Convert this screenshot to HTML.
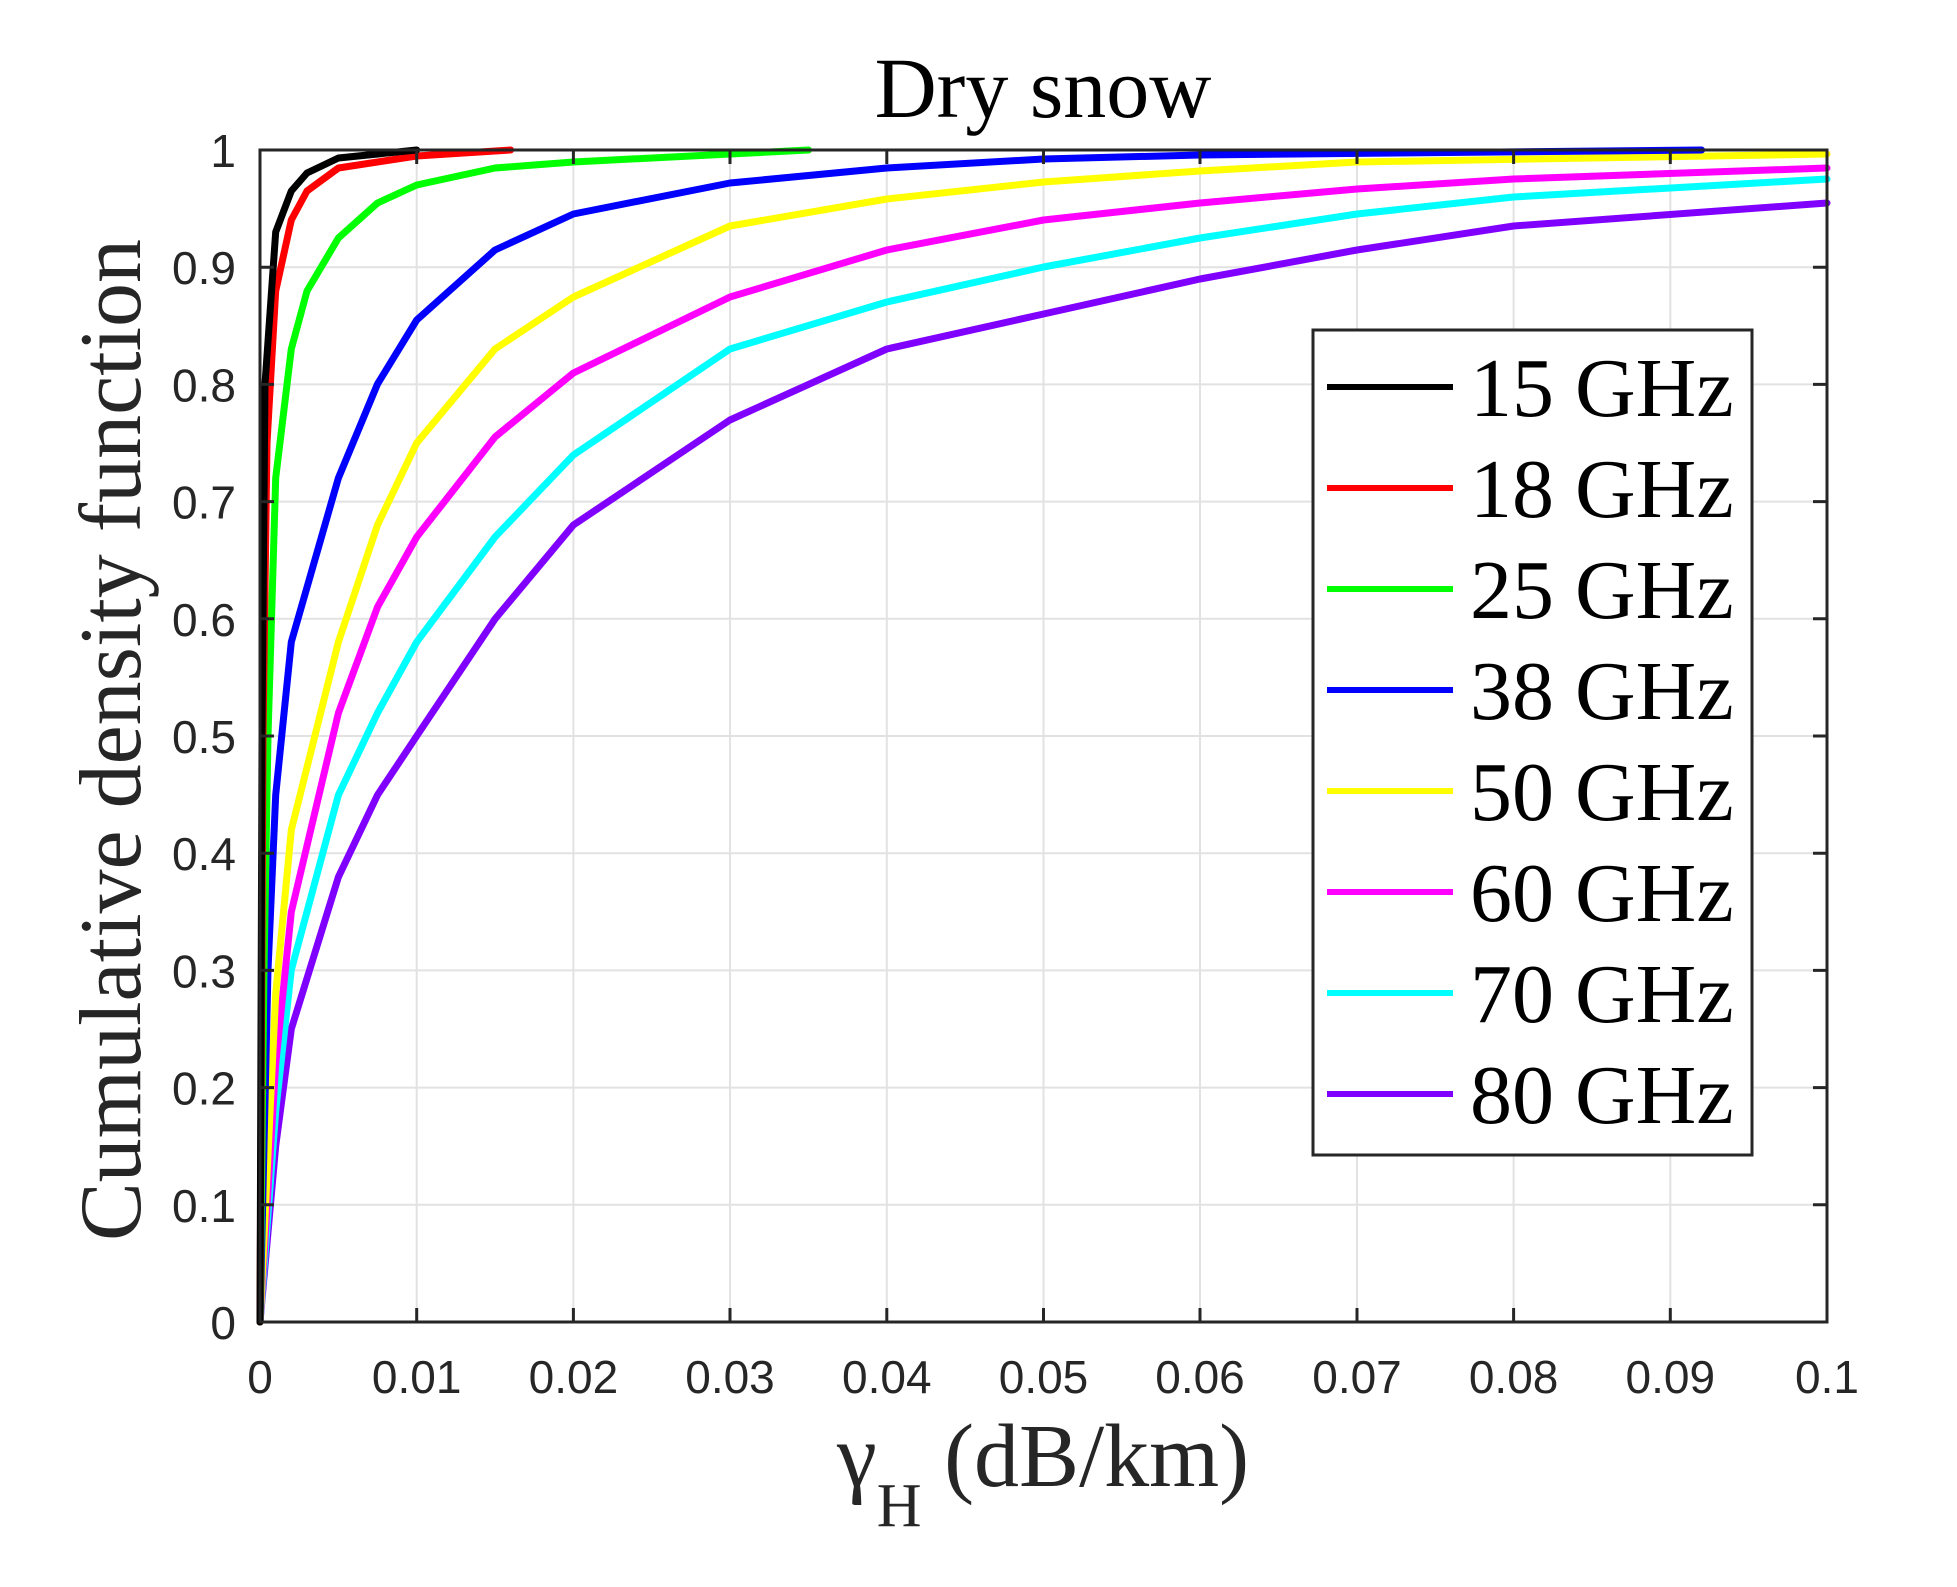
<!DOCTYPE html>
<html><head><style>html,body{margin:0;padding:0;background:#fff}</style></head>
<body>
<svg width="1957" height="1582" viewBox="0 0 1957 1582" xmlns="http://www.w3.org/2000/svg">
<rect width="1957" height="1582" fill="#fff"/>
<g stroke="#e2e2e2" stroke-width="2">
<line x1="416.7" y1="150" x2="416.7" y2="1322"/><line x1="573.4" y1="150" x2="573.4" y2="1322"/>
<line x1="730" y1="150" x2="730" y2="1322"/><line x1="886.8" y1="150" x2="886.8" y2="1322"/>
<line x1="1043.5" y1="150" x2="1043.5" y2="1322"/><line x1="1200" y1="150" x2="1200" y2="1322"/>
<line x1="1357" y1="150" x2="1357" y2="1322"/><line x1="1513.6" y1="150" x2="1513.6" y2="1322"/>
<line x1="1670.3" y1="150" x2="1670.3" y2="1322"/>
<line x1="260" y1="1204.8" x2="1827" y2="1204.8"/><line x1="260" y1="1087.6" x2="1827" y2="1087.6"/>
<line x1="260" y1="970.4" x2="1827" y2="970.4"/><line x1="260" y1="853.2" x2="1827" y2="853.2"/>
<line x1="260" y1="736" x2="1827" y2="736"/><line x1="260" y1="618.8" x2="1827" y2="618.8"/>
<line x1="260" y1="501.6" x2="1827" y2="501.6"/><line x1="260" y1="384.4" x2="1827" y2="384.4"/>
<line x1="260" y1="267.2" x2="1827" y2="267.2"/>
</g>
<g fill="none" stroke-width="7" stroke-linejoin="round" stroke-linecap="round">
<polyline stroke="#8000ff" points="260,1322 275.7,1146 291.3,1029 338.4,877 377.5,795 416.7,736 495,619 573.4,525 730,420 886.8,349 1043.5,314 1200,279 1357,250 1513.6,226 1827,203"/>
<polyline stroke="#00ffff" points="260,1322 275.7,1111 291.3,970 338.4,795 377.5,713 416.7,642 495,537 573.4,455 730,349 886.8,302 1043.5,267 1200,238 1357,214 1513.6,197 1827,179"/>
<polyline stroke="#ff00ff" points="260,1322 275.7,1064 291.3,912 338.4,713 377.5,607 416.7,537 495,437 573.4,373 730,297 886.8,250 1043.5,220 1200,203 1357,189 1513.6,179 1827,168"/>
<polyline stroke="#ffff00" points="260,1322 275.7,994 291.3,830 338.4,642 377.5,525 416.7,443 495,349 573.4,297 730,226 886.8,199 1043.5,182 1200,171 1357,162 1827,154"/>
<polyline stroke="#0000ff" points="260,1322 268,970 275.7,795 291.3,642 338.4,478 377.5,384 416.7,320 495,250 573.4,214 730,183 886.8,168 1043.5,159 1200,155 1701.6,150"/>
<polyline stroke="#00ff00" points="260,1322 264,970 268,736 275.7,478 291.3,349 307,291 338.4,238 377.5,203 416.7,185 495,168 573.4,162 730,154 808.5,150"/>
<polyline stroke="#ff0000" points="260,1322 263,736 267,443 275.7,291 291.3,220 307,191 338.4,168 416.7,156 510.7,150"/>
<polyline stroke="#000000" points="260,1322 262,736 265,384 275.7,232 291.3,191 307,173 338.4,158 416.7,150"/>
</g>
<g stroke="#262626" stroke-width="3" fill="none">
<rect x="260" y="150" width="1567" height="1172"/>
<path d="M416.7,1322v-14M573.4,1322v-14M730,1322v-14M886.8,1322v-14M1043.5,1322v-14M1200,1322v-14M1357,1322v-14M1513.6,1322v-14M1670.3,1322v-14
M416.7,150v14M573.4,150v14M730,150v14M886.8,150v14M1043.5,150v14M1200,150v14M1357,150v14M1513.6,150v14M1670.3,150v14
M260,1204.8h14M260,1087.6h14M260,970.4h14M260,853.2h14M260,736h14M260,618.8h14M260,501.6h14M260,384.4h14M260,267.2h14
M1827,1204.8h-14M1827,1087.6h-14M1827,970.4h-14M1827,853.2h-14M1827,736h-14M1827,618.8h-14M1827,501.6h-14M1827,384.4h-14M1827,267.2h-14"/>
</g>
<g font-family="Liberation Sans, Arial, sans-serif" font-size="46" fill="#262626">
<g text-anchor="middle">
<text x="260" y="1393">0</text><text x="416.7" y="1393">0.01</text><text x="573.4" y="1393">0.02</text>
<text x="730" y="1393">0.03</text><text x="886.8" y="1393">0.04</text><text x="1043.5" y="1393">0.05</text>
<text x="1200" y="1393">0.06</text><text x="1357" y="1393">0.07</text><text x="1513.6" y="1393">0.08</text>
<text x="1670.3" y="1393">0.09</text><text x="1827" y="1393">0.1</text>
</g>
<g text-anchor="end">
<text x="236" y="1339">0</text><text x="236" y="1221.8">0.1</text><text x="236" y="1104.6">0.2</text>
<text x="236" y="987.4">0.3</text><text x="236" y="870.2">0.4</text><text x="236" y="753">0.5</text>
<text x="236" y="635.8">0.6</text><text x="236" y="518.6">0.7</text><text x="236" y="401.4">0.8</text>
<text x="236" y="284.2">0.9</text><text x="236" y="167">1</text>
</g>
</g>
<g font-family="Liberation Serif, Times New Roman, serif" fill="#000">
<text x="1043" y="117" font-size="86" text-anchor="middle">Dry snow</text>
<text x="837" y="1486" font-size="90" fill="#262626">γ<tspan font-size="62" dy="40">H</tspan><tspan dy="-40"> (dB/km)</tspan></text>
<text transform="translate(140,740) rotate(-90)" font-size="88" text-anchor="middle" fill="#262626">Cumulative density function</text>
</g>
<rect x="1313" y="330" width="439" height="825" fill="#fff" stroke="#262626" stroke-width="3"/>
<g stroke-width="6">
<line x1="1327" y1="387" x2="1453" y2="387" stroke="#000"/>
<line x1="1327" y1="488" x2="1453" y2="488" stroke="#ff0000"/>
<line x1="1327" y1="589" x2="1453" y2="589" stroke="#00ff00"/>
<line x1="1327" y1="690" x2="1453" y2="690" stroke="#0000ff"/>
<line x1="1327" y1="791" x2="1453" y2="791" stroke="#ffff00"/>
<line x1="1327" y1="892" x2="1453" y2="892" stroke="#ff00ff"/>
<line x1="1327" y1="993" x2="1453" y2="993" stroke="#00ffff"/>
<line x1="1327" y1="1094" x2="1453" y2="1094" stroke="#8000ff"/>
</g>
<g font-family="Liberation Serif, Times New Roman, serif" font-size="84" fill="#000">
<text x="1470" y="416">15 GHz</text><text x="1470" y="517">18 GHz</text>
<text x="1470" y="618">25 GHz</text><text x="1470" y="719">38 GHz</text>
<text x="1470" y="820">50 GHz</text><text x="1470" y="921">60 GHz</text>
<text x="1470" y="1022">70 GHz</text><text x="1470" y="1123">80 GHz</text>
</g>
</svg>
</body></html>
